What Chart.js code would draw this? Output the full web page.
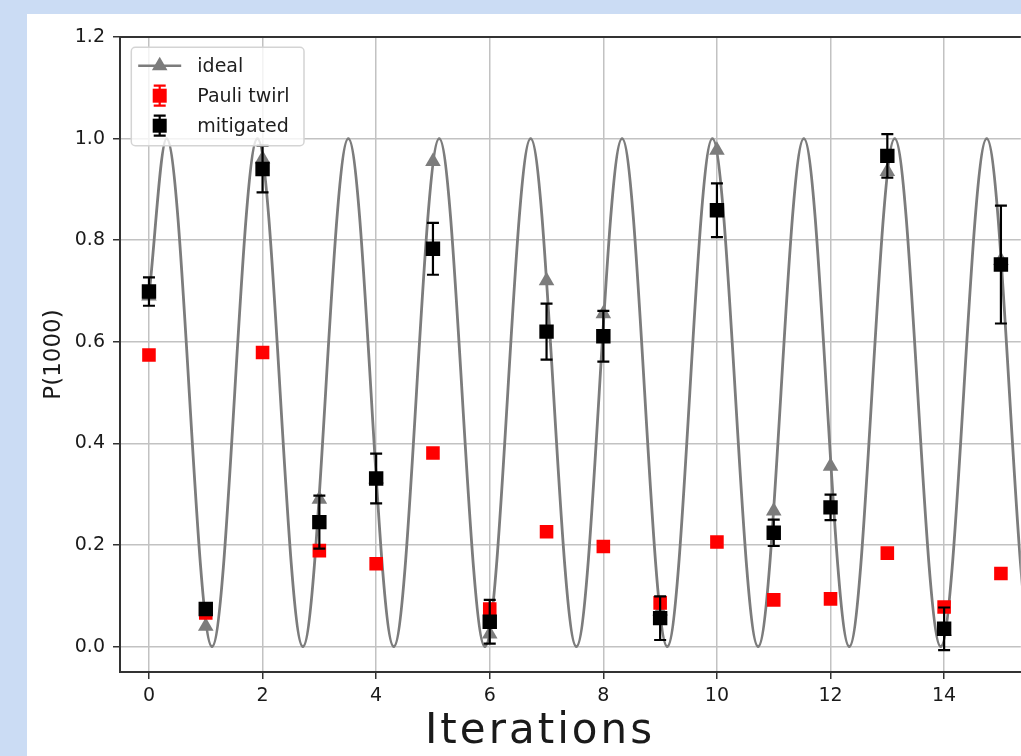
<!DOCTYPE html>
<html>
<head>
<meta charset="utf-8">
<script src="https://cdn.jsdelivr.net/npm/chart.js@4.4.1/dist/chart.umd.min.js"></script>
<style>
  html, body { margin: 0; padding: 0; width: 1021px; height: 756px; overflow: hidden; background: #cbdcf4; }
  #panel { position: absolute; left: 27px; top: 14px; width: 994px; height: 742px; background: #ffffff; overflow: hidden; }
  canvas { display: block; }
</style>
</head>
<body>
<div id="panel"><canvas id="chart" width="1004" height="742"></canvas></div>
<script>
// Measured probabilities of the |1000> state per Grover-style iteration
const iterations = [0, 1, 2, 3, 4, 5, 6, 7, 8, 9, 10, 11, 12, 13, 14, 15];
const idealAtIteration = [0.69, 0.04, 0.96, 0.29, 0.33, 0.955, 0.025, 0.72, 0.655, 0.07, 0.977, 0.267, 0.355, 0.935, 0.03, 0.76];
const pauliTwirl = [0.574, 0.066, 0.579, 0.189, 0.163, 0.381, 0.074, 0.226, 0.197, 0.086, 0.206, 0.092, 0.094, 0.184, 0.078, 0.144];
const pauliTwirlErr = [0.008, 0.008, 0.01, 0.008, 0.008, 0.008, 0.008, 0.008, 0.008, 0.008, 0.008, 0.008, 0.008, 0.008, 0.008, 0.008];
const mitigated = [0.699, 0.074, 0.940, 0.245, 0.331, 0.783, 0.049, 0.620, 0.611, 0.056, 0.859, 0.224, 0.274, 0.966, 0.035, 0.752];
const mitigatedErr = [0.028, 0.008, 0.046, 0.052, 0.049, 0.051, 0.043, 0.055, 0.050, 0.043, 0.053, 0.026, 0.025, 0.043, 0.042, 0.116];

// Continuous ideal curve: its start, then successive maxima and minima
const idealCurveX = [0, 0.31, 1.11, 1.91, 2.71, 3.51, 4.31, 5.11, 5.915, 6.72, 7.525, 8.33, 9.125, 9.92, 10.725, 11.53, 12.33, 13.13, 13.94, 14.75, 15.55, 16.35];
const idealCurveY = [0.69, 1.0, 0.0, 1.0, 0.0, 1.0, 0.0, 1.0, 0.0, 1.0, 0.0, 1.0, 0.0, 1.0, 0.0, 1.0, 0.0, 1.0, 0.0, 1.0, 0.0, 1.0];

const xTicks = [0, 2, 4, 6, 8, 10, 12, 14];
const yTicks = [0.0, 0.2, 0.4, 0.6, 0.8, 1.0, 1.2];

const seriesLabels = ['ideal', 'Pauli twirl', 'mitigated'];
const xTitle = 'Iterations';
const yTitle = 'P(1000)';

const GRAY = '#7c7c7c', RED = '#ff0000', BLACK = '#000000';
const TICK_FONT = { family: 'DejaVu Sans', size: 19 };

const toPoints = (xs, ys) => xs.map((x, i) => ({ x, y: ys[i] }));

// Vertical error bars with caps, drawn just beneath each dataset's markers
const errorBarPlugin = {
  id: 'errorBars',
  beforeDatasetDraw(chart, args) {
    const ds = chart.data.datasets[args.index];
    if (!ds.errorBars) return;
    const { ctx, scales: { x, y } } = chart;
    ctx.save();
    ctx.strokeStyle = ds.errorColor;
    ctx.lineWidth = 2.2;
    ds.data.forEach((p, i) => {
      const e = ds.errorBars[i];
      const px = x.getPixelForValue(p.x);
      const yt = y.getPixelForValue(p.y + e);
      const yb = y.getPixelForValue(p.y - e);
      ctx.beginPath();
      ctx.moveTo(px, yt); ctx.lineTo(px, yb);
      ctx.moveTo(px - 6, yt); ctx.lineTo(px + 6, yt);
      ctx.moveTo(px - 6, yb); ctx.lineTo(px + 6, yb);
      ctx.stroke();
    });
    ctx.restore();
  }
};

// Top spine, legend box and the large axis caption
const framePlugin = {
  id: 'frame',
  afterDatasetsDraw(chart) {
    const { ctx, chartArea: a } = chart;
    ctx.save();
    ctx.strokeStyle = '#333333';
    ctx.lineWidth = 2;
    ctx.beginPath();
    ctx.moveTo(a.left - 1, a.top);
    ctx.lineTo(a.right, a.top);
    ctx.stroke();

    // legend
    const bx = a.left + 11.3, by = a.top + 10.3, bw = 172.7, bh = 98.4;
    ctx.beginPath();
    ctx.roundRect(bx, by, bw, bh, 4);
    ctx.fillStyle = 'rgba(255,255,255,0.8)';
    ctx.fill();
    ctx.strokeStyle = '#d4d4d4';
    ctx.lineWidth = 1.5;
    ctx.stroke();

    const hx = bx + 28.4, tx = bx + 66;
    const rows = [by + 18.4, by + 48.4, by + 78.4];

    // ideal: line with triangle
    ctx.strokeStyle = GRAY; ctx.lineWidth = 2.6;
    ctx.beginPath(); ctx.moveTo(hx - 21.5, rows[0]); ctx.lineTo(hx + 21.5, rows[0]); ctx.stroke();
    drawTriangle(ctx, hx, rows[0], 9, GRAY);

    // Pauli twirl and mitigated: square with error bar
    [[rows[1], RED], [rows[2], BLACK]].forEach(([ry, col]) => {
      ctx.strokeStyle = col; ctx.lineWidth = 2.2;
      ctx.beginPath();
      ctx.moveTo(hx, ry - 10); ctx.lineTo(hx, ry + 10);
      ctx.moveTo(hx - 6, ry - 10); ctx.lineTo(hx + 6, ry - 10);
      ctx.moveTo(hx - 6, ry + 10); ctx.lineTo(hx + 6, ry + 10);
      ctx.stroke();
      ctx.fillStyle = col;
      ctx.fillRect(hx - 7, ry - 7, 14, 14);
    });

    ctx.fillStyle = '#1e1e1e';
    ctx.font = '19px "DejaVu Sans"';
    ctx.textBaseline = 'middle';
    ctx.textAlign = 'left';
    seriesLabels.forEach((t, i) => ctx.fillText(t, tx, rows[i] + 1));
    ctx.restore();
  },
  afterDraw(chart) {
    const { ctx } = chart;
    ctx.save();
    ctx.fillStyle = '#1a1a1a';
    ctx.font = '42px "DejaVu Sans"';
    ctx.letterSpacing = '3px';
    ctx.textAlign = 'center';
    ctx.textBaseline = 'alphabetic';
    ctx.fillText(xTitle, 513, 729);
    ctx.restore();
  }
};

function drawTriangle(ctx, cx, cy, r, color) {
  ctx.save();
  ctx.fillStyle = color;
  ctx.beginPath();
  ctx.moveTo(cx, cy - r);
  ctx.lineTo(cx + r * 0.866, cy + r * 0.5);
  ctx.lineTo(cx - r * 0.866, cy + r * 0.5);
  ctx.closePath();
  ctx.fill();
  ctx.restore();
}

new Chart(document.getElementById('chart'), {
  type: 'scatter',
  data: {
    datasets: [
      {
        label: 'ideal curve',
        data: toPoints(idealCurveX, idealCurveY),
        showLine: true,
        cubicInterpolationMode: 'monotone',
        borderColor: GRAY,
        borderWidth: 2.8,
        pointRadius: 0,
        order: 4
      },
      {
        label: seriesLabels[0],
        data: toPoints(iterations, idealAtIteration),
        pointStyle: 'triangle',
        pointRadius: 9,
        backgroundColor: GRAY,
        borderColor: GRAY,
        borderWidth: 0,
        order: 3
      },
      {
        label: seriesLabels[1],
        data: toPoints(iterations, pauliTwirl),
        errorBars: pauliTwirlErr,
        errorColor: RED,
        pointStyle: 'rect',
        pointRadius: 9.6,
        backgroundColor: RED,
        borderColor: RED,
        borderWidth: 0,
        order: 2
      },
      {
        label: seriesLabels[2],
        data: toPoints(iterations, mitigated),
        errorBars: mitigatedErr,
        errorColor: BLACK,
        pointStyle: 'rect',
        pointRadius: 10.2,
        backgroundColor: BLACK,
        borderColor: BLACK,
        borderWidth: 0,
        order: 1
      }
    ]
  },
  options: {
    responsive: false,
    animation: false,
    layout: { padding: { left: 0, top: 23, right: 0, bottom: 0 } },
    plugins: { legend: { display: false }, tooltip: { enabled: false } },
    scales: {
      x: {
        type: 'linear',
        min: -0.51,
        max: 15.35,
        afterBuildTicks: s => { s.ticks = xTicks.map(v => ({ value: v })); },
        afterFit: s => { s.height = 84; },
        ticks: { font: TICK_FONT, color: '#1a1a1a', padding: 6, maxRotation: 0, callback: v => String(v) },
        grid: { color: '#c2c2c2', lineWidth: 1.5, tickColor: '#333333', tickLength: 7, tickWidth: 1.5 },
        border: { color: '#333333', width: 2 }
      },
      y: {
        type: 'linear',
        min: -0.05,
        max: 1.2,
        afterBuildTicks: s => { s.ticks = yTicks.map(v => ({ value: v })); },
        afterFit: s => { s.width = 93; },
        ticks: { font: TICK_FONT, color: '#1a1a1a', padding: 8, callback: v => v.toFixed(1) },
        grid: { color: '#c2c2c2', lineWidth: 1.5, tickColor: '#333333', tickLength: 7, tickWidth: 1.5 },
        border: { color: '#333333', width: 2 },
        title: { display: true, text: yTitle, font: { family: 'DejaVu Sans', size: 23 }, color: '#1a1a1a', padding: { top: 13, bottom: 0 } }
      }
    }
  },
  plugins: [errorBarPlugin, framePlugin]
});
</script>
</body>
</html>
